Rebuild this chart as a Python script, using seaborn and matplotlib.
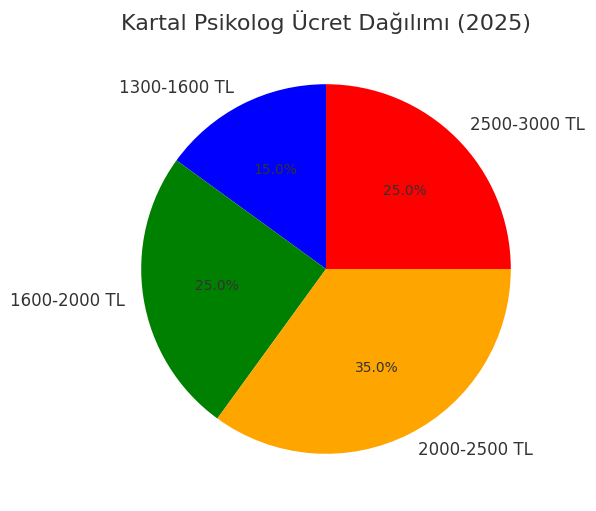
import matplotlib
matplotlib.use('Agg')

import matplotlib.pyplot as plt
import seaborn as sns

# Fee ranges and shares
labels = ['1300-1600 TL', '1600-2000 TL', '2000-2500 TL', '2500-3000 TL']
shares = [15, 25, 35, 25]
colors = ['blue', 'green', 'orange', 'red']

sns.set_style('white')
plt.rcParams['font.family'] = ['DejaVu Sans']
plt.rcParams['text.color'] = '#333333'

fig = plt.figure(figsize=(5.96, 5.11), dpi=100)
ax = fig.add_axes([95 / 596, 11 / 511, 462 / 596, 462 / 511])

ax.pie(shares, labels=labels, colors=colors, autopct='%1.1f%%', startangle=90,
       textprops={'fontsize': 12}, wedgeprops={'linewidth': 0})
for t in ax.texts:
    if t.get_text().endswith('%'):
        t.set_fontsize(10)

ax.set_title('Kartal Psikolog Ücret Dağılımı (2025)', fontsize=16, pad=6)

plt.savefig('out.png', dpi=100)
